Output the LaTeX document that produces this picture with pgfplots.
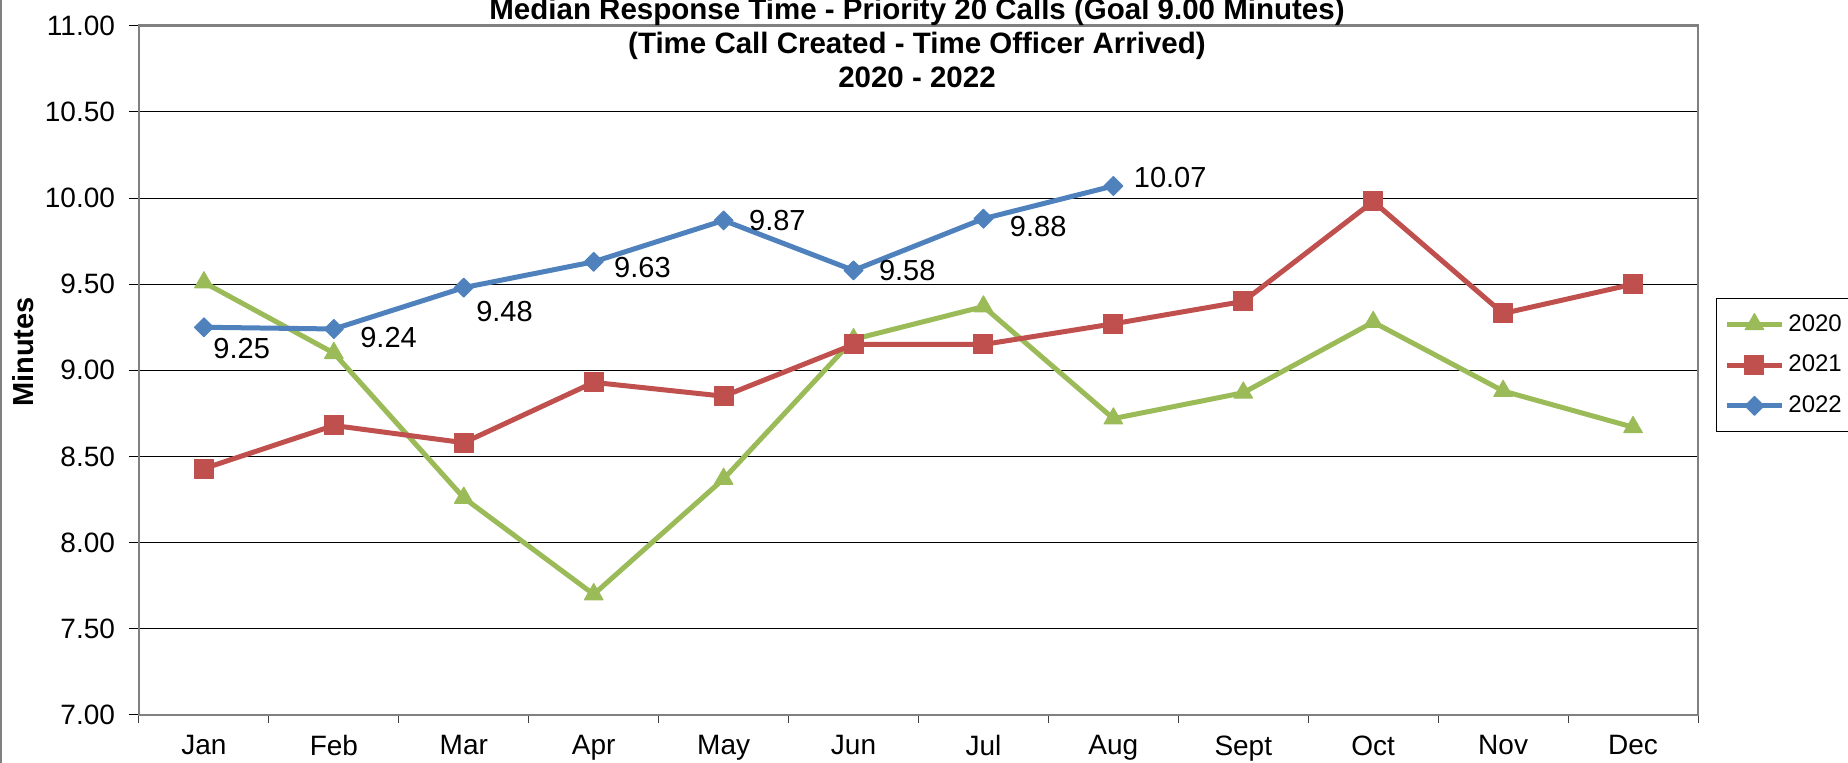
\documentclass[border=0pt]{standalone}
\usepackage{fontspec}
\setmainfont{Liberation Sans}
\usepackage{pgfplots}
\usepackage{pgfplotstable}
\pgfplotsset{compat=1.18}
\definecolor{cA}{HTML}{9BBB59}
\definecolor{cB}{HTML}{C0504D}
\definecolor{cC}{HTML}{4F81BD}
\definecolor{frm}{HTML}{808080}

\pgfplotstableread{
x y
1 9.51
2 9.10
3 8.26
4 7.70
5 8.37
6 9.18
7 9.37
8 8.72
9 8.87
10 9.28
11 8.88
12 8.67
}\dataA
\pgfplotstableread{
x y
1 8.43
2 8.68
3 8.58
4 8.93
5 8.85
6 9.15
7 9.15
8 9.27
9 9.40
10 9.98
11 9.33
12 9.50
}\dataB
\pgfplotstableread{
x y dx dy
1 9.25 4.5 -10.5
2 9.24 13 -4.5
3 9.48 6 -12
4 9.63 10 -3
5 9.87 12.5 0
6 9.58 12.5 0
7 9.88 13 -4
8 10.07 10 4
}\dataC

\begin{document}
\begin{tikzpicture}
\begin{axis}[
  at={(69.5pt,24pt)}, anchor=south west, scale only axis,
  width=779.5pt, height=344.65pt,
  xmin=0.5, xmax=12.5, ymin=7, ymax=11,
  xtick={1,...,12},
  xticklabels={Jan,Feb,Mar,Apr,May,Jun,Jul,Aug,Sept,Oct,Nov,Dec},
  minor xtick={0.5,1.5,...,12.5},
  ytick={7,7.5,...,11},
  xtick pos=left, ytick pos=left,
  tick align=outside,
  major tick length=5pt, minor tick length=4pt,
  major x tick style={draw=none},
  minor x tick style={draw=black!75, line width=0.5pt},
  y tick style={draw=black, line width=0.5pt},
  axis line style={draw=frm, line width=1.25pt},
  ymajorgrids, major grid style={draw=black, line width=0.5pt},
  tick label style={font=\fontsize{14}{16}\selectfont},
  /pgf/number format/assume math mode=true,
  yticklabel style={xshift=-3.5pt, /pgf/number format/.cd, fixed, fixed zerofill, precision=2},
  xticklabel style={yshift=-1.75pt},
  ylabel={Minutes},
  every axis y label/.style={at={(axis description cs:-0.0745,0.5266)}, rotate=90, anchor=center, font=\bfseries\fontsize{14.5}{16}\selectfont},
  clip mode=individual,
  legend style={at={(axis description cs:1.0115,0.605)}, anchor=north west, draw=black, line width=0.5pt,
    font=\fontsize{12}{14}\selectfont, row sep=6.5pt, inner xsep=4pt, inner ysep=6pt, cells={anchor=west}},
  legend image code/.code={\draw[mark repeat=2,mark phase=2] plot coordinates {(0pt,0pt) (13.75pt,0pt) (27.5pt,0pt)};},
  every axis plot/.append style={line width=2.5pt, line join=round},
]
\addplot[cA, mark=triangle*, mark size=5.4pt, mark options={solid, line width=0.5pt}] table[x=x,y=y] {\dataA};
\addlegendentry{2020}
\addplot[cB, mark=square*, mark size=4.75pt, mark options={solid, line width=0.5pt}] table[x=x,y=y] {\dataB};
\addlegendentry{2021}
\addplot[cC, mark=diamond*, mark size=4.75pt, mark options={solid, line width=0.5pt, xscale=1.333},
  visualization depends on={\thisrow{dx} \as \dx},
  visualization depends on={\thisrow{dy} \as \dy},
  nodes near coords={\pgfmathprintnumber[fixed,fixed zerofill,precision=2]{\pgfplotspointmeta}},
  every node near coord/.append style={anchor=west, inner sep=0pt, xshift=\dx pt, yshift=\dy pt, text=black, font=\fontsize{14.5}{16}\selectfont}
] table[x=x,y=y] {\dataC};
\addlegendentry{2022}
\end{axis}
\node[align=center, font=\bfseries\fontsize{14.75}{17}\selectfont] at (458.5pt,360pt)
  {Median Response Time - Priority 20 Calls (Goal 9.00 Minutes)\\(Time Call Created - Time Officer Arrived)\\2020 - 2022};
\draw[frm, line width=1pt] (0.5pt,0pt) -- (0.5pt,381.5pt);
\pgfresetboundingbox
\path[use as bounding box] (0,0) rectangle (924pt,381.5pt);
\end{tikzpicture}
\end{document}
